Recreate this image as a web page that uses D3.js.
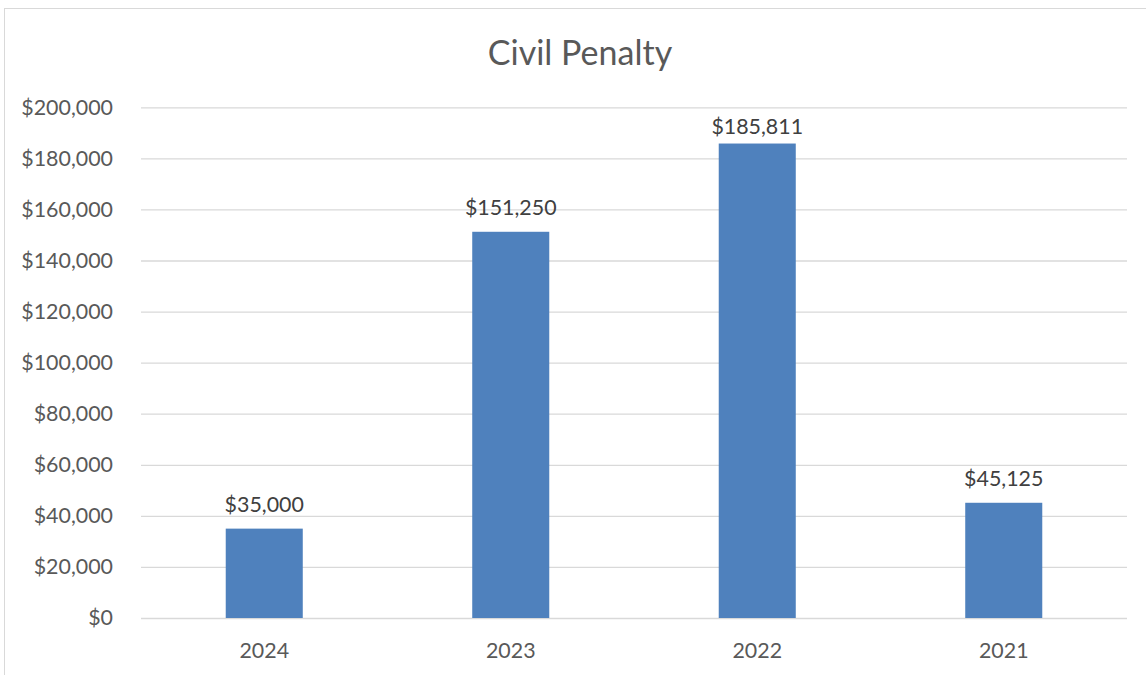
<!DOCTYPE html>
<html><head><meta charset="utf-8">
<script src="https://cdn.jsdelivr.net/npm/d3@7"></script>
<style>body{margin:0;background:#fff;font-family:Lato, "Open Sans", sans-serif;}</style>
</head><body><svg id="c" width="1146" height="675"></svg>
<script>
const categories = ["2024", "2023", "2022", "2021"];
const values = [35000, 151250, 185811, 45125];
const yTicks = [0, 20000, 40000, 60000, 80000, 100000, 120000, 140000, 160000, 180000, 200000];
const title = "Civil Penalty";

const svg = d3.select("#c");
svg.append("rect").attr("x", 4.5).attr("y", 8.5).attr("width", 1160).attr("height", 700)
  .attr("fill", "#fff").attr("stroke", "#D9D9D9").attr("stroke-width", 1);

const pL = 141, pR = 1127, pT = 107.3, pB = 618;
const x = d3.scaleBand().domain(categories).range([pL, pR]).paddingInner(0.6875).paddingOuter(0.34375);
const y = d3.scaleLinear().domain([0, 200000]).range([pB, pT]);
const fmt = d3.format("$,.0f");
const txt = "#595959";
const fs = 21.4;

const yAxis = svg.append("g").attr("transform", `translate(${pL},0)`)
  .call(d3.axisLeft(y).tickValues(yTicks).tickFormat(fmt).tickSize(-(pR - pL)).tickPadding(28));
yAxis.select(".domain").remove();
yAxis.selectAll(".tick line").attr("stroke", "#D9D9D9").attr("stroke-width", 1.3);
yAxis.selectAll(".tick text").attr("fill", txt).attr("font-size", fs).attr("font-family", "Lato");

const xAxis = svg.append("g").attr("transform", `translate(0,${pB})`)
  .call(d3.axisBottom(x).tickSize(0).tickPadding(25));
xAxis.select(".domain").remove();
xAxis.selectAll(".tick text").attr("fill", txt).attr("font-size", fs).attr("font-family", "Lato");

svg.selectAll("rect.bar").data(values).enter().append("rect").attr("class", "bar")
  .attr("x", (d, i) => x(categories[i])).attr("width", x.bandwidth())
  .attr("y", d => y(d)).attr("height", d => pB - y(d)).attr("fill", "#4F81BD");

svg.selectAll("text.lbl").data(values).enter().append("text").attr("class", "lbl")
  .attr("x", (d, i) => x(categories[i]) + x.bandwidth() / 2)
  .attr("y", d => Math.max(y(d) - 17, pT + 27))
  .attr("text-anchor", "middle").attr("fill", "#404040").attr("font-size", fs).attr("font-family", "Lato")
  .text(d => fmt(d));

svg.append("text").attr("x", 580).attr("y", 65).attr("text-anchor", "middle")
  .attr("fill", "#595959").attr("font-size", 34).attr("font-family", "Lato").text(title);
</script></body></html>
